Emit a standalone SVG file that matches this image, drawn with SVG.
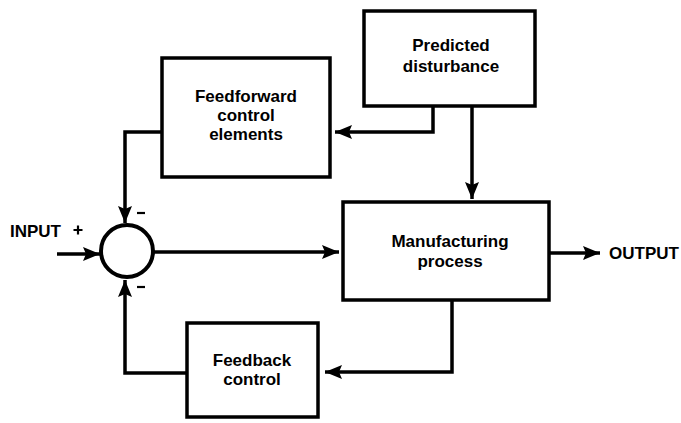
<svg xmlns="http://www.w3.org/2000/svg" width="681" height="423" viewBox="0 0 681 423">
  <style>
    .box { fill: #ffffff; stroke: #000000; stroke-width: 3.5; }
    .lbl { font-family: "Liberation Sans", Arial, Helvetica, sans-serif; font-weight: bold; font-size: 17px; fill: #000000; text-anchor: middle; }
    .io { font-family: "Liberation Sans", Arial, Helvetica, sans-serif; font-weight: bold; font-size: 17px; fill: #000000; }
    .wire { fill: none; stroke: #000000; stroke-width: 3.5; stroke-linejoin: miter; marker-end: url(#arrow); }
    .sign { stroke: #000000; stroke-width: 2.2; fill: none; }
  </style>
  <defs>
    <marker id="arrow" markerUnits="userSpaceOnUse" markerWidth="18" markerHeight="14" refX="17" refY="7" orient="auto">
      <path d="M0,0 L17,7 L0,14 L3,7 Z" fill="#000000"/>
    </marker>
  </defs>
  <rect width="681" height="423" fill="#ffffff"/>

  <!-- connectors -->
  <g id="connectors">
    <path class="wire" d="M57,254 H100"/>
    <path class="wire" d="M154,252 H339"/>
    <path class="wire" d="M549,253 H600"/>
    <path class="wire" d="M433,106 V132 H335"/>
    <path class="wire" d="M472,106 V199"/>
    <path class="wire" d="M452,300 V372 H325"/>
    <path class="wire" d="M187,373 H125 V280"/>
    <path class="wire" d="M162,132 H125 V223"/>
  </g>

  <!-- summing junction with signs -->
  <g id="summer">
    <circle cx="127" cy="251" r="26" fill="#ffffff" stroke="#000000" stroke-width="4"/>
    <path class="sign" d="M73.5,230 H82.5 M78,225.5 V234.5"/>
    <path class="sign" d="M137,213 H145"/>
    <path class="sign" d="M137,287 H145"/>
  </g>

  <g id="input">
    <text class="io" x="10" y="237">INPUT</text>
  </g>
  <g id="output">
    <text class="io" x="609" y="259">OUTPUT</text>
  </g>

  <g id="predicted-disturbance">
    <rect class="box" x="364" y="11" width="171" height="95"/>
    <text class="lbl" x="451" y="51">Predicted</text>
    <text class="lbl" x="451" y="72">disturbance</text>
  </g>

  <g id="feedforward">
    <rect class="box" x="162" y="58" width="168" height="119"/>
    <text class="lbl" x="246" y="102">Feedforward</text>
    <text class="lbl" x="246" y="121">control</text>
    <text class="lbl" x="246" y="140">elements</text>
  </g>

  <g id="manufacturing">
    <rect class="box" x="343" y="202" width="206" height="98"/>
    <text class="lbl" x="450" y="247">Manufacturing</text>
    <text class="lbl" x="450" y="267">process</text>
  </g>

  <g id="feedback">
    <rect class="box" x="187" y="323" width="131" height="94"/>
    <text class="lbl" x="252" y="366">Feedback</text>
    <text class="lbl" x="252" y="385">control</text>
  </g>
</svg>
